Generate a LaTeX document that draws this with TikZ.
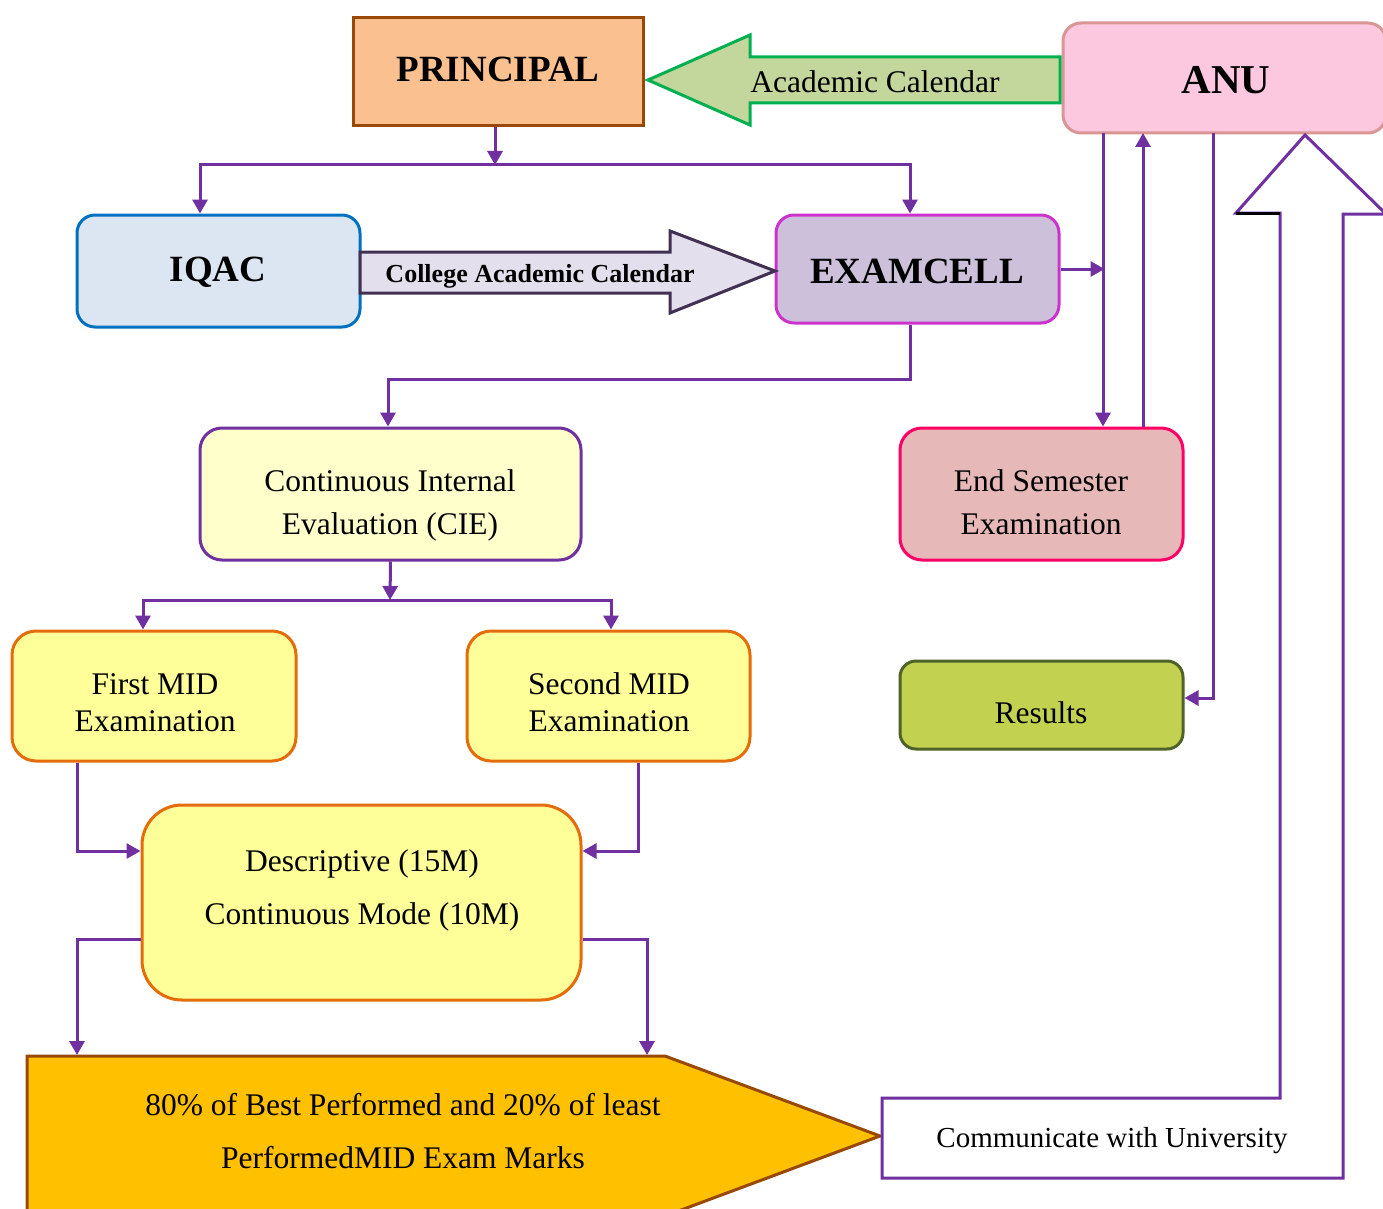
\documentclass[tikz,border=0pt]{standalone}
\usepackage{fontspec}
\setmainfont{Liberation Serif}
\usetikzlibrary{arrows.meta}
\definecolor{cpurple}{HTML}{7030A0}
\definecolor{cbrown}{HTML}{984807}
\definecolor{cprinc}{HTML}{FAC090}
\definecolor{canufill}{HTML}{FBC8DF}
\definecolor{canudraw}{HTML}{D99694}
\definecolor{ciqacfill}{HTML}{DCE6F2}
\definecolor{ciqacdraw}{HTML}{0070C0}
\definecolor{cexfill}{HTML}{CCC0DA}
\definecolor{cexdraw}{HTML}{CC33CC}
\definecolor{ciefill}{HTML}{FFFFCC}
\definecolor{cendfill}{HTML}{E6B9B8}
\definecolor{cenddraw}{HTML}{FF0066}
\definecolor{cresfill}{HTML}{C3D150}
\definecolor{cresdraw}{HTML}{4F6228}
\definecolor{cmidfill}{HTML}{FFFF99}
\definecolor{cmiddraw}{HTML}{E46C0A}
\definecolor{cpent}{HTML}{FFC000}
\definecolor{cacfill}{HTML}{C3D69B}
\definecolor{cacdraw}{HTML}{00B050}
\definecolor{ccolfill}{HTML}{E4DFEC}
\definecolor{ccoldraw}{HTML}{403152}
\begin{document}
\begin{tikzpicture}[x=1pt,y=-1pt,
  box/.style={draw,line width=3pt,rounded corners=18pt,align=center,inner sep=0pt,text=black},
  bigbold/.style={font=\fontsize{37}{44}\selectfont\bfseries},
  norm/.style={font=\fontsize{31.5}{43}\selectfont},
  conn/.style={draw=cpurple,line width=3pt},
  arr/.style={-{Triangle[length=14pt,width=15pt]}},
  txt/.style={align=center,inner sep=0pt,text=black}]
\clip (0,0) rectangle (1383,1209);
\fill[white] (0,0) rectangle (1383,1209);

% boxes
\node[box,rounded corners=0pt,fill=cprinc,draw=cbrown,minimum width=290pt,minimum height=108pt] (principal) at (498,72) {};
\node[txt,bigbold] (princtext) at (498,69) {PRINCIPAL};
\node[box,fill=canufill,draw=canudraw,minimum width=323pt,minimum height=110pt] (anu) at (1224.5,78) {};
\node[txt,font=\fontsize{41}{48}\selectfont\bfseries] (anutext) at (1226,80) {ANU};
\node[box,fill=ciqacfill,draw=ciqacdraw,minimum width=283pt,minimum height=112pt] (iqac) at (218.5,271) {};
\node[txt,bigbold] (iqactext) at (218,272) {IQAC};
\node[box,fill=cexfill,draw=cexdraw,minimum width=283pt,minimum height=108pt] (examcell) at (917.5,269) {};
\node[txt,bigbold] (extext) at (917,271) {EXAMCELL};
\node[box,rounded corners=22pt,fill=ciefill,draw=cpurple,minimum width=381pt,minimum height=132pt] (cie) at (390.5,494) {};
\node[txt,norm] (cietext) at (390,505) {Continuous Internal\\Evaluation (CIE)};
\node[box,rounded corners=22pt,fill=cendfill,draw=cenddraw,minimum width=283pt,minimum height=132pt] (endsem) at (1041.5,494) {};
\node[txt,norm] (endtext) at (1041,502) {End Semester\\Examination};
\node[box,rounded corners=16pt,fill=cresfill,draw=cresdraw,minimum width=283pt,minimum height=88pt] (results) at (1041.5,705) {};
\node[txt,norm] (restext) at (1041,713) {Results};
\node[box,rounded corners=24pt,fill=cmidfill,draw=cmiddraw,minimum width=284pt,minimum height=130pt] (mid1) at (154,696) {};
\node[txt,font=\fontsize{31.5}{37}\selectfont] (mid1text) at (155,703) {First MID\\Examination};
\node[box,rounded corners=24pt,fill=cmidfill,draw=cmiddraw,minimum width=283pt,minimum height=130pt] (mid2) at (608.5,696) {};
\node[txt,font=\fontsize{31.5}{37}\selectfont] (mid2text) at (609,702) {Second MID\\Examination};
\node[box,rounded corners=40pt,fill=cmidfill,draw=cmiddraw,minimum width=439pt,minimum height=195pt] (desc) at (361.5,902.5) {};
\node[txt,font=\fontsize{31.5}{53}\selectfont] (desctext) at (362,890) {Descriptive (15M)\\Continuous Mode (10M)};

% block arrows
\draw[line width=3pt,draw=cacdraw,fill=cacfill,line join=miter] (1060,57) -- (750,57) -- (750,35) -- (648,80) -- (750,125) -- (750,103) -- (1060,103) -- cycle;
\node[txt,font=\fontsize{31.5}{38}\selectfont] (actext) at (875,82) {Academic Calendar};
\draw[line width=3pt,draw=ccoldraw,fill=ccolfill,line join=miter] (360,252) -- (670,252) -- (670,231) -- (775,271) -- (670,313) -- (670,293) -- (360,293) -- cycle;
\node[txt,font=\fontsize{26}{32}\selectfont\bfseries] (coltext) at (540,276) {College Academic Calendar};

% pentagon
\draw[line width=3pt,draw=cbrown,fill=cpent] (27,1056) -- (665,1056) -- (880,1136) -- (665,1216) -- (27,1216) -- cycle;
\node[txt,font=\fontsize{31.5}{53}\selectfont] (marks) at (403,1131) {80\% of Best Performed and 20\% of least\\PerformedMID Exam Marks};
\coordinate (pL) at (77,1055);
\coordinate (pR) at (647,1055);

% bent arrow to university
\draw[line width=3pt,draw=cpurple,fill=white] (882,1098) -- (1280,1098) -- (1280,213) -- (1236,213) -- (1305,135) -- (1386,214) -- (1343,214) -- (1343,1178) -- (882,1178) -- cycle;
\draw[line width=3pt,black] (1236,213) -- (1280,213);
\node[txt,font=\fontsize{29}{34}\selectfont] (comm) at (1112,1141) {Communicate with University};

% connectors
\coordinate (j1) at (495,165);
\draw[conn,arr] ([xshift=-3pt]principal.south) -- (j1);
\draw[conn,arr] (j1) -| ([xshift=-18.5pt]iqac.north);
\draw[conn,arr] (j1) -| ([xshift=-7.5pt]examcell.north);
\draw[conn,arr] ([xshift=-7.5pt]examcell.south) -- ++(0,55) -| ([xshift=-2.5pt]cie.north);
\draw[conn,arr] (examcell.east) -- ++(44,0);
\coordinate (a1) at (1103,133);
\coordinate (a2) at (1143,133);
\coordinate (a3) at (1213,133);
\draw[conn,arr] (a1) -- (a1 |- endsem.north);
\draw[conn,arr] (a2 |- endsem.north) -- (a2);
\draw[conn,arr] (a3) |- ([yshift=7pt]results.east);
\coordinate (j2) at (390,600);
\draw[conn,arr] (cie.south) -- (j2);
\draw[conn,arr] (j2) -| ([xshift=-11pt]mid1.north);
\draw[conn,arr] (j2) -| ([xshift=2.5pt]mid2.north);
\draw[conn,arr] ([xshift=-77pt]mid1.south) |- ([yshift=51.5pt]desc.west);
\draw[conn,arr] ([xshift=29.5pt]mid2.south) |- ([yshift=51.5pt]desc.east);
\draw[conn,arr] ([yshift=-36.5pt]desc.west) -| (pL);
\draw[conn,arr] ([yshift=-36.5pt]desc.east) -| (pR);
\end{tikzpicture}
\end{document}
